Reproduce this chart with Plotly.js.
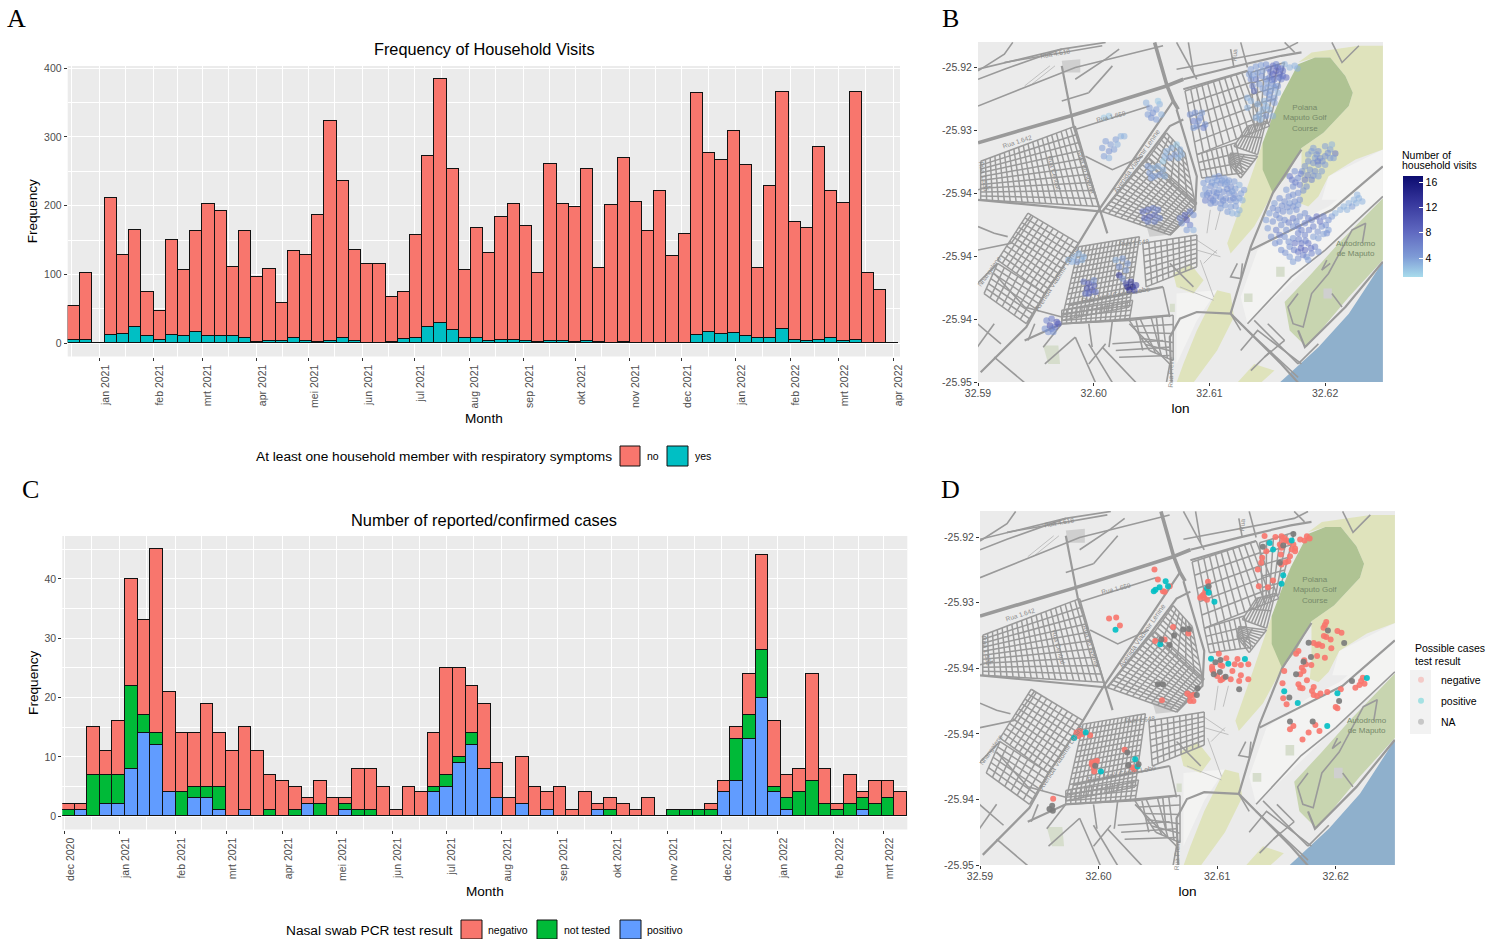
<!DOCTYPE html>
<html><head><meta charset="utf-8">
<script src="https://cdn.plot.ly/plotly-3.0.1.min.js"></script>
<style>html,body{margin:0;padding:0;background:#fff}#chart{width:1503px;height:939px}</style>
</head><body><div id="chart"></div>
<script>
/* ---------- panel A: weekly household visits ---------- */
const visitsNo = [49,97,0,200,115,141,63,42,138,96,146,192,182,101,156,95,105,55,127,125,185,320,229,132,115,115,65,69,150,250,356,235,99,159,127,178,197,168,100,257,199,196,250,108,200,267,205,163,221,127,159,352,261,253,294,249,102,220,345,172,164,280,215,200,361,102,78,0];
const visitsYes = [5,5,0,12,13,24,11,5,12,10,17,11,10,10,8,2,3,3,7,3,2,3,7,3,1,1,2,6,8,23,29,19,7,8,4,5,5,3,2,4,4,2,4,2,1,2,1,1,1,0,0,12,16,14,15,10,7,8,21,5,4,5,7,4,5,0,0,0];
const firstWeekA = '2020-12-14';
const monthTicksA = ['2021-01-01','2021-02-01','2021-03-01','2021-04-01','2021-05-01','2021-06-01','2021-07-01','2021-08-01','2021-09-01','2021-10-01','2021-11-01','2021-12-01','2022-01-01','2022-02-01','2022-03-01','2022-04-01'];
const monthLabelsA = ['jan 2021','feb 2021','mrt 2021','apr 2021','mei 2021','jun 2021','jul 2021','aug 2021','sep 2021','okt 2021','nov 2021','dec 2021','jan 2022','feb 2022','mrt 2022','apr 2022'];
const midMonthsA = ['2020-12-16','2021-01-16','2021-02-15','2021-03-16','2021-04-16','2021-05-16','2021-06-16','2021-07-16','2021-08-16','2021-09-16','2021-10-16','2021-11-16','2021-12-16','2022-01-16','2022-02-15','2022-03-16'];

/* ---------- panel C: weekly cases ---------- */
const casesPositivo = [0,1,0,2,2,8,14,12,4,0,3,3,1,0,1,0,0,0,0,2,0,0,1,0,0,0,0,0,0,4,5,9,12,8,3,0,2,0,1,0,0,0,1,0,0,0,0,0,0,0,0,0,4,6,13,20,4,1,0,0,0,0,0,1,0,0,0];
const casesNotTested = [1,0,7,5,5,14,3,2,0,4,2,2,4,0,0,0,1,0,1,0,2,0,1,1,1,0,0,0,0,1,2,1,2,0,0,0,0,0,0,0,0,0,0,1,0,0,0,0,1,1,1,1,0,7,4,8,1,2,4,6,2,1,2,2,2,3,0];
const casesNegativo = [1,1,8,4,9,18,16,31,17,10,9,14,9,11,14,11,6,6,4,1,4,3,1,7,7,5,1,5,4,9,18,15,8,11,6,3,8,5,3,5,1,4,1,2,2,1,3,0,0,0,0,1,2,2,7,16,11,4,4,18,6,1,5,1,4,3,4];
const firstWeekC = '2020-11-30';
const monthTicksC = ['2020-12-01','2021-01-01','2021-02-01','2021-03-01','2021-04-01','2021-05-01','2021-06-01','2021-07-01','2021-08-01','2021-09-01','2021-10-01','2021-11-01','2021-12-01','2022-01-01','2022-02-01','2022-03-01'];
const monthLabelsC = ['dec 2020','jan 2021','feb 2021','mrt 2021','apr 2021','mei 2021','jun 2021','jul 2021','aug 2021','sep 2021','okt 2021','nov 2021','dec 2021','jan 2022','feb 2022','mrt 2022'];
const midMonthsC = ['2020-12-16','2021-01-16','2021-02-15','2021-03-16','2021-04-16','2021-05-16','2021-06-16','2021-07-16','2021-08-16','2021-09-16','2021-10-16','2021-11-16','2021-12-16','2022-01-16','2022-02-15'];

/* ---------- map axes ---------- */
const lonTicks = [32.59,32.60,32.61,32.62];
const lonLabels = ['32.59','32.60','32.61','32.62'];
const latTicks = [-25.92,-25.925,-25.93,-25.935,-25.94,-25.945];
const latLabels = ['-25.92','-25.93','-25.94','-25.94','-25.94','-25.95'];

/* ---------- digitised basemap (survey grid units: 34267/deg lon from 32.59 at 52; 37600/deg lat from -25.92 at 114) ---------- */
const waterAreas = [[[945,1056],[1000,1005],[1060,950],[1150,850],[1251,695],[1251,1056]]];
const golfAreas = [[[895,340],[925,260],[950,200],[1000,105],[1050,85],[1095,85],[1140,140],[1162,190],[1150,230],[1075,310],[1010,355],[965,440],[925,490],[895,420]]];
const parkAreas = [[[960,815],[1040,730],[1120,640],[1251,505],[1251,690],[1150,800],[1025,950],[975,900]]];
const softSpots = [[[245,945],[290,945],[295,1000],[260,1000]],[[935,710],[960,710],[960,740],[935,740]],[[840,790],[865,790],[865,815],[840,815]],[[620,820],[635,820],[635,845],[620,845]]];
const meadowAreas = [[[1000,100],[1040,70],[1180,50],[1251,50],[1251,360],[1170,390],[1090,440],[1060,500],[1030,530],[1005,520],[1010,470],[1010,355],[1075,310],[1150,230],[1162,190],[1140,140],[1095,85],[1050,85]],[[895,340],[925,490],[870,590],[800,670],[790,640],[840,500]],[[630,730],[680,700],[720,750],[690,790],[640,770]],[[640,1056],[660,1000],[700,900],[760,780],[800,790],[810,860],[760,960],[690,1056]],[[820,1056],[870,1000],[930,1020],[890,1056]]];
const paleAreas = [[[880,660],[1000,575],[1090,530],[1251,400],[1251,500],[1080,660],[850,880],[830,800]],[[1090,440],[1170,400],[1251,360],[1251,400],[1130,510],[1070,510]],[[640,1000],[700,870],[760,780],[640,790]]];
const buildingAreas = [[[300,95],[355,90],[355,130],[305,130]],[[550,585],[600,580],[610,615],[560,620]],[[1075,775],[1100,775],[1100,805],[1075,805]]];
const mainRoads = [[[52,340],[340,255],[610,170],[660,150]],[[575,40],[612,170],[630,215],[645,240]]];
const avenues = [[[630,215],[410,540],[350,640],[250,790],[195,890],[60,1025]],[[660,150],[800,115],[950,80],[1010,70]],[[1010,360],[925,490],[860,650],[800,850]],[[860,660],[1000,590],[1100,540],[1251,410]],[[625,1056],[620,920],[650,865],[700,845],[800,850],[950,1000],[1000,1056]],[[52,510],[210,525],[420,545]],[[300,110],[335,290],[410,530],[435,610]],[[320,825],[600,770]],[[190,930],[300,880],[450,870],[620,855]],[[1000,900],[1020,950],[1140,830],[1251,695]],[[660,180],[850,125]],[[420,545],[545,390],[620,290],[660,270]],[[640,240],[700,440],[695,540],[620,615]]];
const sideRoads = [[[52,150],[130,120],[300,60],[430,40]],[[52,230],[200,170],[340,115],[600,50]],[[340,300],[560,230]],[[52,660],[150,640],[210,555]],[[50,760],[110,700]],[[100,730],[190,830],[300,860]],[[850,880],[980,740],[1080,660],[1251,500]],[[830,960],[880,900],[1010,1000]],[[870,870],[1000,1000]],[[850,900],[1000,1040]],[[910,880],[960,930]],[[1000,790],[970,830],[985,880],[1015,890],[1040,790],[1090,730],[1160,600],[1200,580],[1190,640]],[[1085,690],[1070,720],[1095,700]],[[380,940],[450,1056]],[[420,950],[520,1056]],[[500,880],[620,1000],[610,1056]],[[100,980],[190,1056]],[[340,920],[400,1056]],[[1100,40],[1130,100],[1180,50]],[[800,60],[810,115]],[[830,40],[850,115]],[[960,40],[990,70]],[[52,120],[300,60]],[[340,150],[430,90],[470,60]],[[800,850],[830,900]],[[820,700],[800,740],[830,745],[835,700]],[[450,940],[600,930]],[[460,960],[620,950]],[[470,980],[620,975]],[[52,125],[130,75],[155,40]],[[130,100],[420,50]],[[380,190],[450,110]],[[300,215],[380,190]],[[640,40],[700,150]],[[675,40],[690,130]],[[640,120],[960,60],[1000,40]],[[52,480],[90,470]],[[52,590],[100,610],[140,620]],[[370,380],[450,420],[540,380]],[[245,950],[300,880]],[[200,930],[220,880]],[[50,950],[100,880]],[[50,880],[120,940]],[[620,700],[690,770]],[[600,770],[620,860]],[[520,870],[540,960]],[[580,860],[590,950]],[[380,880],[390,950]],[[450,870],[440,950]],[[380,1000],[430,940]],[[250,1000],[340,920]],[[900,980],[960,930]],[[860,1020],[920,960]],[[1000,1000],[1060,940]],[[1130,830],[1100,790]]];
const thinTracks = [[[190,170],[265,110]],[[205,170],[280,110]],[[700,630],[760,670]],[[700,660],[770,680]],[[710,690],[750,800]],[[720,700],[760,660]],[[650,770],[750,810]],[[740,540],[730,610]],[[770,540],[755,600]]];
/* street blocks: four corner points, then street counts in each direction */
const streetBlocks = [
  {c:[[60,395],[340,290],[410,530],[60,510]],u:10,v:20},
  {c:[[420,545],[555,385],[700,520],[620,615]],u:11,v:16},
  {c:[[550,395],[610,310],[665,370],[695,520]],u:6,v:8},
  {c:[[350,650],[530,620],[500,830],[300,870]],u:14,v:16},
  {c:[[200,550],[350,640],[250,790],[110,690]],u:10,v:10},
  {c:[[110,700],[250,790],[195,880],[70,790]],u:6,v:7},
  {c:[[665,185],[850,125],[915,290],[700,375]],u:5,v:11},
  {c:[[700,375],[815,340],[835,430],[715,445]],u:3,v:8},
  {c:[[540,640],[700,615],[700,710],[550,770]],u:7,v:9},
  {c:[[300,840],[510,810],[500,870],[300,880]],u:4,v:14},
  {c:[[500,870],[630,855],[630,990],[560,960]],u:5,v:4},
  {c:[[850,290],[905,275],[880,375],[810,350]],u:2,v:8},
  {c:[[800,370],[880,380],[830,445],[795,400]],u:8,v:2},
  {c:[[860,130],[960,100],[915,280],[870,290]],u:5,v:5}
];

/* ---------- panel B: households, [grid x, grid y, visits] ---------- */
const visitsNorthEast = [[860,120,4],[875,112,4],[890,108,4],[905,106,5],[925,110,8],[940,115,8],[955,125,7],[965,145,8],[950,150,6],[935,125,9],[925,135,9],[915,145,6],[945,135,8],[930,150,7],[925,165,5],[910,175,4],[905,190,4],[940,170,5],[920,185,4],[900,215,3],[915,210,4],[930,220,4],[915,240,3],[905,260,4],[885,255,3],[875,265,3],[860,215,3],[850,205,3],[870,185,7],[865,170,6],[860,150,5],[875,150,6],[885,165,4],[880,130,4],[960,105,3],[975,115,3],[990,110,3],[998,118,3],[935,105,6],[945,145,6],[895,125,4],[905,150,5],[912,118,6],[930,175,4],[880,225,3],[850,235,3],[895,240,3],[925,260,3],[855,135,4],[868,138,4],[892,140,5],[918,128,7],[950,118,7],[955,140,7],[922,152,6],[908,163,4],[895,178,4],[915,196,4],[930,205,4],[905,230,3],[888,270,3],[940,190,3]];
const visitsAirport = [[550,220,3],[560,235,4],[570,250,5],[580,240,4],[590,225,3],[565,265,5],[580,270,4],[555,255,4],[595,255,3],[585,215,2],[425,265,2],[440,260,2],[680,255,5],[695,250,5],[710,265,5],[690,275,6],[700,290,5],[720,295,6],[725,285,5],[690,295,4],[705,275,5],[715,250,4]];
const visitsCentre = [[430,335,4],[445,345,4],[460,330,4],[475,320,3],[440,365,5],[455,360,4],[425,380,4],[440,385,3],[420,355,4],[465,345,3],[485,320,3],[610,365,3],[625,355,3],[640,345,2],[650,360,3],[635,375,4],[620,385,4],[605,380,3],[645,385,3],[655,375,3],[600,395,2],[555,410,4],[570,415,3],[585,410,3],[600,420,3],[560,430,4],[575,440,4],[590,435,4],[605,440,3],[565,445,4]];
const visitsHulene = [[720,460,4],[733,450,4],[752,444,4],[765,440,5],[782,446,4],[795,452,4],[811,455,4],[826,466,3],[840,481,4],[725,477,4],[741,469,5],[755,466,4],[771,461,5],[784,464,4],[801,471,5],[814,477,4],[831,491,4],[719,495,4],[736,489,5],[750,485,5],[766,481,4],[779,486,5],[796,490,5],[812,496,5],[826,505,4],[725,512,6],[741,505,6],[756,500,5],[770,502,5],[786,506,5],[799,511,5],[816,514,4],[835,511,3],[741,521,5],[754,519,5],[771,521,5],[784,526,4],[801,531,4],[815,529,4],[826,541,3],[770,535,4],[791,546,4],[805,550,3],[820,552,3],[745,458,4],[760,452,4],[775,452,4],[790,458,4],[730,495,5],[760,490,5],[790,478,5],[805,485,4],[748,512,5],[778,512,5],[808,505,5]];
const visitsMafalala = [[540,545,7],[555,540,7],[570,535,6],[585,540,6],[545,565,8],[560,560,8],[575,555,7],[590,565,6],[555,575,6],[575,575,6],[650,565,6],[665,555,8],[680,545,6],[690,555,5],[670,570,9],[680,585,6],[670,600,4],[690,600,3],[655,580,5]];
const visitsSouth = [[320,690,3],[335,680,3],[350,670,3],[365,680,3],[345,695,4],[360,690,3],[330,695,3],[460,690,3],[480,685,4],[495,700,4],[470,710,5],[490,720,4],[470,735,12],[480,745,5],[365,755,7],[380,760,9],[395,765,8],[375,775,10],[390,780,9],[400,785,7],[380,790,8],[370,790,7],[395,750,5],[490,760,9],[505,755,12],[495,770,15],[510,770,16],[520,765,12],[500,780,13],[515,780,11],[255,870,6],[270,865,7],[285,875,10],[250,895,5],[265,885,11],[280,890,8],[260,905,5],[275,905,5],[290,880,9],[270,895,6]];
const visitsPolana = [[1045,355,4],[1060,365,5],[1080,350,4],[1095,360,4],[1110,372,7],[1100,345,3],[1050,385,4],[1065,385,5],[1030,375,4],[1080,380,5],[1095,385,4],[1045,400,5],[1060,405,5],[1080,405,4],[1020,410,5],[1035,420,5],[1050,425,5],[1070,425,4],[990,425,5],[975,440,7],[1000,445,5],[1020,450,7],[1040,450,6],[1005,465,6],[1025,470,5],[985,470,5],[965,480,4],[985,495,5],[1000,490,5],[945,505,5],[960,515,5],[975,520,4],[990,515,5],[1005,510,5],[930,520,4],[940,540,5],[955,545,5],[975,545,4],[995,540,5],[915,550,4],[925,575,5],[945,565,5],[960,570,5],[985,565,6],[1005,560,5],[1020,550,5],[1040,570,6],[1055,560,8],[1075,560,6],[1090,570,5],[1020,580,6],[1045,590,6],[1070,590,5],[1090,600,4],[1000,590,6],[965,600,5],[985,590,5],[935,600,6],[920,620,5],[945,635,5],[960,620,5],[985,625,5],[1000,610,6],[1020,615,6],[1045,620,4],[1060,625,4],[1085,610,5],[950,660,5],[975,650,5],[990,640,7],[1010,640,7],[1030,640,7],[1050,650,6],[1060,665,5],[1000,665,7],[1020,660,8],[1040,670,6],[975,680,4],[1000,685,5],[1025,680,5],[1135,530,3],[1150,520,3],[1165,510,3],[1180,505,3],[1190,515,3],[1160,530,4],[1145,540,3],[1110,550,3]];
const visitsPolanaInfill = [[1055,375,5],[1072,395,5],[1040,365,4],[1088,370,5],[1105,385,4],[1058,395,6],[1030,395,5],[1012,425,5],[1028,437,6],[1045,438,5],[1060,440,4],[982,450,6],[1008,432,6],[992,458,6],[1015,482,5],[972,500,5],[952,528,5],[968,532,5],[985,530,5],[1000,525,4],[925,535,5],[905,570,4],[935,555,5],[950,585,5],[972,578,6],[995,575,5],[1030,565,6],[1065,575,7],[1082,585,5],[1010,600,6],[1032,600,6],[1058,605,5],[1075,612,4],[910,595,4],[945,615,6],[932,640,5],[972,635,5],[1002,628,6],[1022,632,6],[1038,655,7],[1008,655,8],[988,660,6],[962,668,5],[1015,675,6],[1030,690,4],[985,695,4],[1172,520,3],[1125,540,3],[1100,560,4],[1175,495,3]];

/* ---------- panel D: possible cases, digitised on the panel D grid (35000/deg lon from 32.59 at 60; 39400/deg lat from -25.92 at 108) ---------- */
const casesNegativeXY = [[900,104],[932,107],[950,105],[958,110],[965,117],[972,122],[985,130],[990,142],[980,145],[975,165],[950,140],[948,160],[970,180],[962,183],[950,190],[905,150],[893,170],[890,185],[880,205],[925,238],[883,255],[910,258],[1005,115],[1018,118],[1025,105],[1033,112],[955,118],[990,150],[945,130],[575,205],[585,235],[600,270],[605,272],[620,255],[733,242],[725,270],[715,285],[710,290],[722,290],[730,296],[720,280],[441,352],[462,349],[473,373],[577,420],[605,415],[630,378],[675,397],[765,458],[787,472],[820,474],[745,497],[748,510],[770,492],[775,495],[760,525],[805,510],[830,492],[812,490],[852,490],[830,523],[800,535],[775,535],[770,538],[852,535],[825,540],[780,530],[745,505],[672,578],[680,585],[690,582],[680,600],[690,600],[597,598],[345,695],[355,690],[360,700],[350,705],[385,703],[390,790],[400,783],[395,800],[397,812],[405,780],[390,785],[487,747],[515,805],[510,800],[276,894],[1082,363],[1078,372],[1074,380],[1115,390],[1127,395],[1082,408],[1075,405],[1095,415],[1097,442],[1070,435],[1060,430],[1045,426],[1055,432],[1078,470],[1055,465],[1000,450],[993,458],[1017,478],[1022,490],[1010,500],[1015,510],[1005,520],[958,510],[1038,492],[1000,550],[1005,560],[1025,538],[1012,562],[953,547],[1045,558],[1040,570],[1045,582],[1055,585],[1065,578],[1085,573],[1125,565],[955,592],[965,610],[1110,618],[1115,622],[1190,530],[1185,540],[1195,548],[1180,552],[1168,560],[985,675],[975,685],[1030,695],[1012,716],[1050,672],[1062,690]];
const casesPositiveXY = [[915,125],[925,145],[955,222],[950,248],[980,118],[608,240],[590,258],[573,270],[578,266],[615,255],[730,262],[735,275],[752,302],[460,386],[592,430],[742,473],[793,488],[842,474],[338,711],[372,695],[417,812],[518,775],[525,797],[958,571],[998,606],[1115,577],[1085,675],[1202,531]];
const casesNAXY = [[985,98],[955,133],[895,137],[945,185],[735,255],[595,415],[620,432],[633,403],[660,385],[677,384],[755,484],[768,513],[750,520],[785,527],[825,565],[770,477],[702,562],[700,582],[585,550],[600,550],[400,795],[495,755],[498,793],[528,790],[273,915],[275,930],[265,925],[1030,425],[1087,388],[1135,426],[1037,468],[1015,482],[973,590],[1158,540],[1120,600],[975,662],[1042,662],[993,520]];

/* ---------- names on the basemap: text, grid x, grid y, angle ---------- */
const placeNames = [['Polana<br>Maputo Golf<br>Course',1020,265,0,8,'#76896a'],['Autodromo<br>de Maputo',1170,655,0,8,'#76896a'],['Rua 4.618',280,72,-10,6.5,'#8a8a8a'],['Rua 1.659',445,262,-14,6.5,'#8a8a8a'],['Rua 1.642',168,335,-18,6.5,'#8a8a8a'],['Rua 1.648',515,637,-5,6.5,'#8a8a8a'],['Rua José Carlos Lobo',460,792,-10,7,'#8a8a8a'],['Avenida Vladimir Lenine',520,395,-55,7,'#8a8a8a'],['Avenida Vladimir Lenine',285,745,-57,7,'#8a8a8a'],['Rua Central',280,430,75,6.5,'#8a8a8a'],['Rua do Sporter',372,430,72,6.5,'#8a8a8a'],['Rua 1.535',70,440,80,6.5,'#8a8a8a'],['Nhangalene',85,725,-55,6.5,'#8a8a8a'],['Rua Freire',622,1025,-88,6.5,'#8a8a8a'],['Rua',810,78,-85,6.5,'#8a8a8a']];

/* ---------- layout helpers: page pixels to paper fractions ---------- */
const W = 1503, H = 939;
const hx = p => p / W, hy = p => 1 - p / H;
const rectA = {l:67.7, r:900, t:66, b:356.5};
const rectB = {l:978, r:1383, t:42, b:382};
const rectC = {l:62.3, r:907.3, t:536, b:829.5};
const rectD = {l:980, r:1395, t:511, b:865};
const domX = r => [hx(r.l), hx(r.r)], domY = r => [hy(r.b), hy(r.t)];

const lonOf = g => 32.59 + (g - 52) / 34267;
const latOf = g => -25.92 - (g - 114) / 37600;
const lonOfD = g => 32.59 + (g - 60) / 35000;
const latOfD = g => -25.92 - (g - 108) / 39400;

const DAY = 864e5;
const weekCentres = (start, n) => Array.from({length:n}, (_, i) => new Date(Date.parse(start + 'T00:00:00Z') + (i * 7 + 3.5) * DAY).toISOString().slice(0, 19).replace('T', ' '));

const TICK = '#4D4D4D', ROAD = '#9a9a9a';
const FONT = 'Liberation Sans, Arial, sans-serif';

function barTrace(name, xs, ys, color, ax, ay) {
  return {type:'bar', name, x:xs, y:ys, xaxis:ax, yaxis:ay, width:7 * DAY, showlegend:false, hoverinfo:'x+y+name',
    marker:{color, line:{color:'#111', width:1.1}}};
}
function polyXY(polys) {
  const x = [], y = [];
  polys.forEach(p => { p.forEach(q => { x.push(lonOf(q[0])); y.push(latOf(q[1])); }); x.push(null); y.push(null); });
  return {x, y};
}
function fillTrace(polys, color, ax, ay) {
  return Object.assign(polyXY(polys), {type:'scatter', mode:'lines', fill:'toself', fillcolor:color, line:{width:0, color}, xaxis:ax, yaxis:ay, showlegend:false, hoverinfo:'skip'});
}
function lineTrace(polys, width, color, ax, ay) {
  return Object.assign(polyXY(polys), {type:'scatter', mode:'lines', line:{width, color}, xaxis:ax, yaxis:ay, showlegend:false, hoverinfo:'skip', connectgaps:false});
}
function blockLines(b) {
  const [a, p, c, d] = b.c, mix = (m, n, t) => [m[0] + (n[0] - m[0]) * t, m[1] + (n[1] - m[1]) * t], out = [];
  for (let i = 0; i <= b.u; i++) { const t = i / b.u; out.push([mix(a, d, t), mix(p, c, t)]); }
  for (let i = 0; i <= b.v; i++) { const t = i / b.v; out.push([mix(a, p, t), mix(d, c, t)]); }
  return out;
}
const streets = streetBlocks.flatMap(blockLines);
function basemap(ax, ay) {
  return [
    fillTrace(paleAreas, '#f3f3f2', ax, ay),
    fillTrace(meadowAreas, '#dfe3bc', ax, ay),
    fillTrace(parkAreas, '#c8d5b0', ax, ay),
    fillTrace(softSpots, '#d6ddcc', ax, ay),
    fillTrace(golfAreas, '#afc393', ax, ay),
    fillTrace(waterAreas, '#8fb0cc', ax, ay),
    fillTrace(buildingAreas, '#cfcfcf', ax, ay),
    lineTrace(thinTracks, 0.8, '#b4b4b4', ax, ay),
    lineTrace(streets, 1.5, ROAD, ax, ay),
    lineTrace(sideRoads, 1.6, ROAD, ax, ay),
    lineTrace(avenues, 2.2, ROAD, ax, ay),
    lineTrace(mainRoads, 3.6, ROAD, ax, ay)
  ];
}

/* ---------- traces ---------- */
const xA = weekCentres(firstWeekA, visitsNo.length);
const xC = weekCentres(firstWeekC, casesNegativo.length);
const allVisits = [].concat(visitsNorthEast, visitsAirport, visitsCentre, visitsHulene, visitsMafalala, visitsSouth, visitsPolana, visitsPolanaInfill);
const casePoints = (rows, name, color) => ({type:'scatter', mode:'markers', name, x:rows.map(r => lonOfD(r[0])), y:rows.map(r => latOfD(r[1])), xaxis:'x4', yaxis:'y4', showlegend:false, hoverinfo:'name', marker:{size:6, color, opacity:0.9}});
const legendKey = (name, color) => ({type:'scatter', mode:'markers', name, x:[null], y:[null], xaxis:'x4', yaxis:'y4', legendgroup:name, showlegend:true, marker:{size:6, color, opacity:0.32}});

const traces = [
  barTrace('yes', xA, visitsYes, '#00BFC4', 'x', 'y'),
  barTrace('no', xA, visitsNo, '#F8766D', 'x', 'y'),
  barTrace('positivo', xC, casesPositivo, '#619CFF', 'x3', 'y3'),
  barTrace('not tested', xC, casesNotTested, '#00BA38', 'x3', 'y3'),
  barTrace('negativo', xC, casesNegativo, '#F8766D', 'x3', 'y3'),
  ...basemap('x2', 'y2'),
  {type:'scatter', mode:'markers', name:'Households', x:allVisits.map(r => lonOf(r[0])), y:allVisits.map(r => latOf(r[1])), xaxis:'x2', yaxis:'y2', showlegend:false, hoverinfo:'skip',
    marker:{size:6.5, opacity:0.55, color:allVisits.map(r => r[2]), cmin:1, cmax:17,
      colorscale:[[0,'#A8DCEC'],[0.2,'#7E9BD6'],[0.45,'#5F68C0'],[0.75,'#34349A'],[1,'#0C0C70']],
      colorbar:{thickness:20, thicknessmode:'pixels', len:101, lenmode:'pixels', x:hx(1403), xanchor:'left', y:hy(277), yanchor:'bottom', xpad:0, ypad:0,
        outlinewidth:0, tickvals:[4,8,12,16], ticks:'inside', ticklen:4, tickcolor:'#ffffff', tickfont:{size:10.5, color:'#000', family:FONT}}}},
  ...basemap('x4', 'y4'),
  casePoints(casesNegativeXY, 'negative', '#F8766D'),
  casePoints(casesPositiveXY, 'positive', '#00BFC4'),
  casePoints(casesNAXY, 'NA', '#7a7a7a'),
  legendKey('negative', '#F8766D'),
  legendKey('positive', '#00BFC4'),
  legendKey('NA', '#6e6e6e')
];

/* ---------- axes ---------- */
const GRID = {showgrid:true, gridcolor:'#ffffff', gridwidth:1.2, zeroline:false, showline:false, ticks:'outside', ticklen:3, tickcolor:'#333', tickwidth:1};
const tickF = {size:10.5, color:TICK, family:FONT};
const titleF = {size:13.6, color:'#000', family:FONT};
const dateAxis = (rect, range, vals, text, mids, anchor, standoff) => Object.assign({}, GRID, {type:'date', domain:domX(rect), anchor, range, tickmode:'array', tickvals:vals, ticktext:text, tickangle:-90, tickfont:tickF, ticklabelshift:6,
  minor:{showgrid:true, gridcolor:'#ffffff', gridwidth:0.6, tickmode:'array', tickvals:mids, ticks:''},
  title:{text:'Month', font:titleF, standoff}});
const countAxis = (rect, range, vals, mids, anchor, standoff) => Object.assign({}, GRID, {domain:domY(rect), anchor, range, tickmode:'array', tickvals:vals, tickfont:tickF,
  minor:{showgrid:true, gridcolor:'#ffffff', gridwidth:0.6, tickmode:'array', tickvals:mids, ticks:''},
  title:{text:'Frequency', font:titleF, standoff}});
const lonAxis = (rect, anchor) => ({domain:domX(rect), anchor, range:[32.59, 32.625], tickmode:'array', tickvals:lonTicks, ticktext:lonLabels, tickfont:tickF, showgrid:false, zeroline:false, ticks:'outside', ticklen:3, tickcolor:'#333', ticklabelstandoff:-2, title:{text:'lon', font:titleF, standoff:5}});
const latAxis = (rect, anchor) => ({domain:domY(rect), anchor, range:[-25.945, -25.918], tickmode:'array', tickvals:latTicks, ticktext:latLabels, tickfont:tickF, showgrid:false, zeroline:false, ticks:'outside', ticklen:3, tickcolor:'#333'});

/* ---------- text and legend keys ---------- */
const note = (text, x, y, size, extra) => Object.assign({text, xref:'paper', yref:'paper', x:hx(x), y:hy(y), xanchor:'center', yanchor:'middle', showarrow:false, font:{size, color:'#000', family:FONT}}, extra || {});
const leftNote = (text, x, y, size) => note(text, x - 2, y, size, {xanchor:'left'});
const keyBox = (l, r, t, b, color) => ({type:'rect', xref:'paper', yref:'paper', x0:hx(l), x1:hx(r), y0:hy(b), y1:hy(t), fillcolor:color, line:{color:'#111', width:1}});

const mapNotes = (ax, ay) => placeNames.map(n => ({text:n[0], xref:ax, yref:ay, x:lonOf(n[1]), y:latOf(n[2]), showarrow:false, textangle:n[3], font:{size:n[4], color:n[5], family:FONT}, align:'center'}));

const annotations = [
  note('A', 16, 19, 26, {font:{size:26, color:'#000', family:'Liberation Serif, serif'}}),
  note('B', 951, 19, 26, {font:{size:26, color:'#000', family:'Liberation Serif, serif'}}),
  note('C', 30, 489, 26, {font:{size:26, color:'#000', family:'Liberation Serif, serif'}}),
  note('D', 951, 489, 26, {font:{size:26, color:'#000', family:'Liberation Serif, serif'}}),
  note('Frequency of Household Visits', 484, 49.5, 16.3),
  note('Number of reported/confirmed cases', 484, 519.5, 16.4),
  leftNote('At least one household member with respiratory symptoms', 256, 456, 13.7),
  leftNote('no', 647, 456, 10.5),
  leftNote('yes', 695, 456, 10.5),
  leftNote('Nasal swab PCR test result', 286, 930, 13.7),
  leftNote('negativo', 488, 930, 10.5),
  leftNote('not tested', 564, 930, 10.5),
  leftNote('positivo', 647, 930, 10.5),
  leftNote('Number of', 1402, 155, 10.5),
  leftNote('household visits', 1402, 165.5, 10.5),
  ...mapNotes('x2', 'y2'),
  ...mapNotes('x4', 'y4')
];

const shapes = [
  keyBox(620, 640, 446, 466, '#F8766D'),
  keyBox(667, 688, 446, 466, '#00BFC4'),
  keyBox(461, 482, 920, 939, '#F8766D'),
  keyBox(537, 557, 920, 939, '#00BA38'),
  keyBox(620, 641, 920, 939, '#619CFF'),
  {type:'rect', xref:'paper', yref:'paper', x0:hx(1410), x1:hx(1431), y0:hy(734), y1:hy(670), fillcolor:'#F2F2F2', line:{width:0}}
];

const layout = {
  width:W, height:H, margin:{l:0, r:0, t:0, b:0}, paper_bgcolor:'#ffffff', plot_bgcolor:'#EBEBEB',
  barmode:'stack', bargap:0, hovermode:'closest', font:{family:FONT},
  xaxis:dateAxis(rectA, ['2020-12-14', '2022-04-05'], monthTicksA, monthLabelsA, midMonthsA, 'y', 5),
  yaxis:countAxis(rectA, [-19.2, 403.2], [0,100,200,300,400], [50,150,250,350], 'x', 3),
  xaxis3:dateAxis(rectC, ['2020-11-30', '2022-03-14'], monthTicksC, monthLabelsC, midMonthsC, 'y3', 5),
  yaxis3:countAxis(rectC, [-2.25, 47.25], [0,10,20,30,40], [5,15,25,35,45], 'x3', 2),
  xaxis2:lonAxis(rectB, 'y2'), yaxis2:latAxis(rectB, 'x2'),
  xaxis4:lonAxis(rectD, 'y4'), yaxis4:latAxis(rectD, 'x4'),
  showlegend:true,
  legend:{x:hx(1413), xanchor:'left', y:hy(638), yanchor:'top', bgcolor:'rgba(0,0,0,0)', indentation:-12, traceorder:'grouped', tracegroupgap:2, font:{size:10.5, color:'#000', family:FONT}, title:{text:'Possible cases<br>test result', font:{size:10.5, color:'#000', family:FONT}}},
  annotations, shapes
};

Plotly.newPlot('chart', traces, layout, {displayModeBar:false, responsive:false});
</script></body></html>
